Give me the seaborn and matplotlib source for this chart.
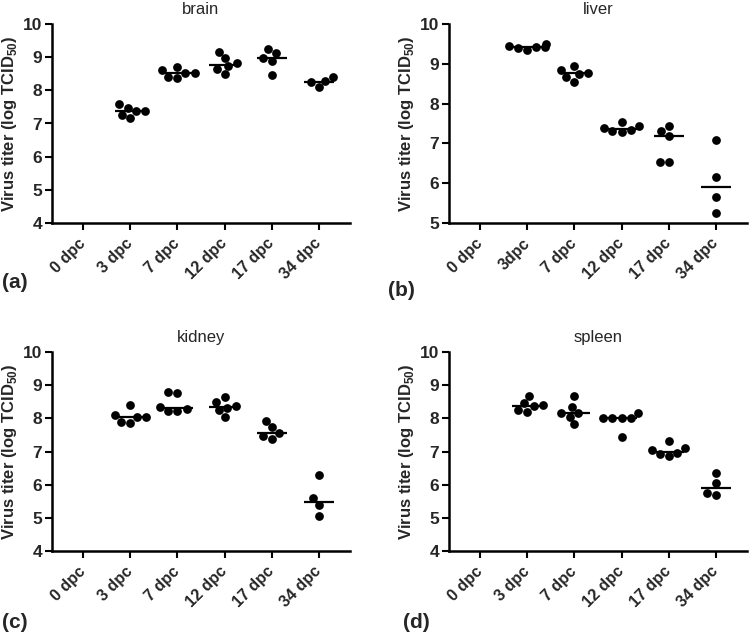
import numpy as np
import pandas as pd
import seaborn as sns
import matplotlib.pyplot as plt

# virus titers (log TCID50) per time point
days = ["0 dpc", "3 dpc", "7 dpc", "12 dpc", "17 dpc", "34 dpc"]
liver_days = ["0 dpc", "3dpc", "7 dpc", "12 dpc", "17 dpc", "34 dpc"]

brain = [[], [7.18, 7.26, 7.38, 7.39, 7.48, 7.59],
         [8.38, 8.41, 8.51, 8.53, 8.61, 8.69],
         [8.48, 8.63, 8.72, 8.82, 8.97, 9.17],
         [8.46, 8.89, 8.97, 9.12, 9.25],
         [8.09, 8.24, 8.29, 8.39]]
liver = [[], [9.35, 9.40, 9.41, 9.43, 9.45, 9.50],
         [8.55, 8.66, 8.74, 8.78, 8.84, 8.95],
         [7.29, 7.32, 7.33, 7.38, 7.44, 7.55],
         [6.53, 6.53, 7.19, 7.31, 7.44],
         [5.24, 5.66, 6.15, 7.09]]
kidney = [[], [7.87, 7.90, 8.05, 8.05, 8.10, 8.40],
          [8.23, 8.23, 8.27, 8.33, 8.75, 8.80],
          [8.05, 8.25, 8.32, 8.37, 8.50, 8.65],
          [7.38, 7.47, 7.55, 7.73, 7.93],
          [5.06, 5.39, 5.59, 6.29]]
spleen = [[], [8.20, 8.25, 8.37, 8.40, 8.45, 8.68],
          [7.82, 8.05, 8.15, 8.15, 8.33, 8.67],
          [7.43, 8.00, 8.00, 8.00, 8.00, 8.17],
          [6.86, 6.92, 6.95, 7.05, 7.10, 7.33],
          [5.69, 5.74, 6.04, 6.36]]

sns.set_theme(style="ticks")
plt.rcParams["font.family"] = ["Liberation Sans", "DejaVu Sans"]
plt.rcParams["mathtext.fontset"] = "custom"
plt.rcParams["mathtext.bf"] = "Liberation Sans:bold"
plt.rcParams["mathtext.rm"] = "Liberation Sans"


def panel(ax, values, labels, title, ymin, letter, letter_xy):
    rows = [(labels[i], v) for i, grp in enumerate(values) for v in grp]
    df = pd.DataFrame(rows, columns=["day", "titer"])

    sns.boxplot(data=df, x="day", y="titer", order=labels, ax=ax, width=0.64,
                showbox=False, showcaps=False, showfliers=False,
                whiskerprops={"visible": False},
                medianprops={"color": "black", "linewidth": 1.6})
    sns.swarmplot(data=df, x="day", y="titer", order=labels, ax=ax,
                  color="black", size=6.3, linewidth=0)

    ax.set_xlim(-0.66, 5.66)
    ax.set_ylim(ymin, 10)
    ax.set_yticks(range(ymin, 11))
    ax.set_yticklabels([str(t) for t in range(ymin, 11)], fontweight="bold", fontsize=12.5)
    ax.set_xticks(range(6))
    ax.set_xticklabels(labels, rotation=45, ha="right", va="center",
                       rotation_mode="anchor", fontweight="bold", fontsize=11.5)
    ax.tick_params(width=1.5, length=5, color="black", pad=2)
    ax.tick_params(axis="x", pad=8)
    ax.set_xlabel("")
    ax.set_ylabel(r"Virus titer (log TCID$_{\mathbf{50}}$)", fontweight="bold",
                  fontsize=12, labelpad=3)
    ax.set_title(title, fontsize=12, pad=7)
    for side in ["left", "bottom"]:
        ax.spines[side].set_linewidth(1.8)
        ax.spines[side].set_color("black")
    sns.despine(ax=ax)
    fig.text(letter_xy[0], letter_xy[1], letter, fontsize=15, fontweight="bold", va="center")


fig = plt.figure(figsize=(7.49, 6.37), dpi=100)
w, h = 298 / 749, 199 / 637
ax_a = fig.add_axes([52 / 749, 1 - 223 / 637, w, h])
ax_b = fig.add_axes([449 / 749, 1 - 223 / 637, w, h])
ax_c = fig.add_axes([52 / 749, 1 - 551 / 637, w, h])
ax_d = fig.add_axes([449 / 749, 1 - 551 / 637, w, h])

panel(ax_a, brain, days, "brain", 4, "(a)", (2 / 749, 1 - 283 / 637))
panel(ax_b, liver, liver_days, "liver", 5, "(b)", (388 / 749, 1 - 290 / 637))
panel(ax_c, kidney, days, "kidney", 4, "(c)", (2 / 749, 1 - 622 / 637))
panel(ax_d, spleen, days, "spleen", 4, "(d)", (403 / 749, 1 - 622 / 637))

fig.savefig("out.png", dpi=100)
